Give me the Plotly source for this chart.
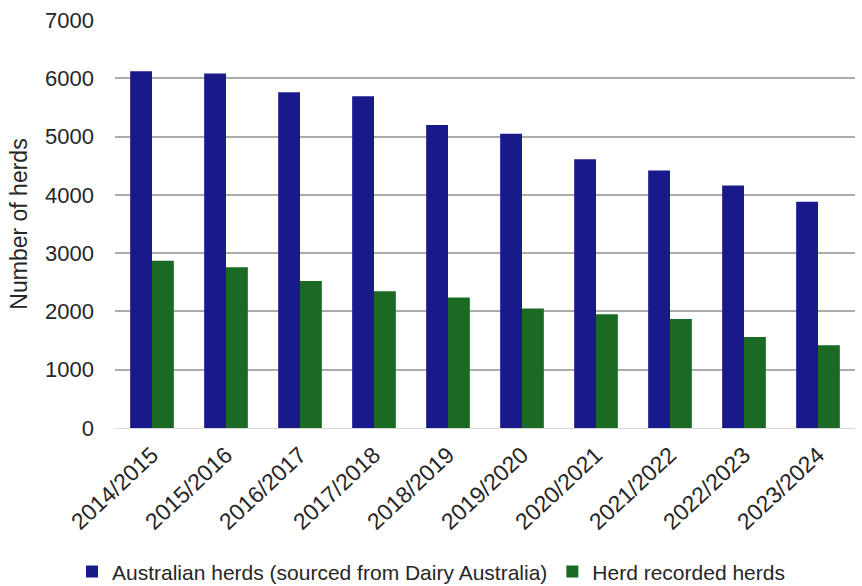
import plotly.graph_objects as go

seasons = ["2014/2015", "2015/2016", "2016/2017", "2017/2018", "2018/2019",
           "2019/2020", "2020/2021", "2021/2022", "2022/2023", "2023/2024"]
australian_herds = [6120, 6080, 5760, 5690, 5200, 5050, 4610, 4420, 4160, 3880]
recorded_herds = [2870, 2760, 2520, 2345, 2240, 2050, 1950, 1870, 1560, 1420]

FONT = "Liberation Sans, Arial, sans-serif"
TXT = "#262626"

fig = go.Figure()
fig.add_trace(go.Bar(x=seasons, y=australian_herds,
                     name="Australian herds (sourced from Dairy Australia)",
                     marker=dict(color="#18198b", line=dict(width=0))))
fig.add_trace(go.Bar(x=seasons, y=recorded_herds,
                     name="Herd recorded herds",
                     marker=dict(color="#1b6a23", line=dict(width=0))))

fig.update_layout(
    width=862, height=586,
    margin=dict(l=115, r=7, t=20, b=158),
    paper_bgcolor="white", plot_bgcolor="white",
    barmode="group", bargap=0.41, bargroupgap=0,
    font=dict(family=FONT, size=22, color=TXT),
    showlegend=True,
    legend=dict(orientation="h", xref="container", yref="container",
                x=0.5, xanchor="center", y=0.024, yanchor="middle",
                font=dict(size=21, color=TXT), itemwidth=30,
                traceorder="normal", bgcolor="rgba(0,0,0,0)"),
)
fig.update_yaxes(range=[0, 7000], dtick=1000, showgrid=True,
                 gridcolor="#ababab", gridwidth=2,
                 zeroline=True, zerolinecolor="#d9d9d9", zerolinewidth=1,
                 showline=False, ticks="", ticklabelstandoff=20,
                 tickfont=dict(size=22, color=TXT),
                 title=dict(text="Number of herds", font=dict(size=23, color=TXT),
                            standoff=10))
fig.update_xaxes(tickangle=-43, showgrid=False, showline=False, ticks="",
                 ticklabelstandoff=8,
                 tickfont=dict(size=23, color=TXT))

fig.write_html("out.html")
